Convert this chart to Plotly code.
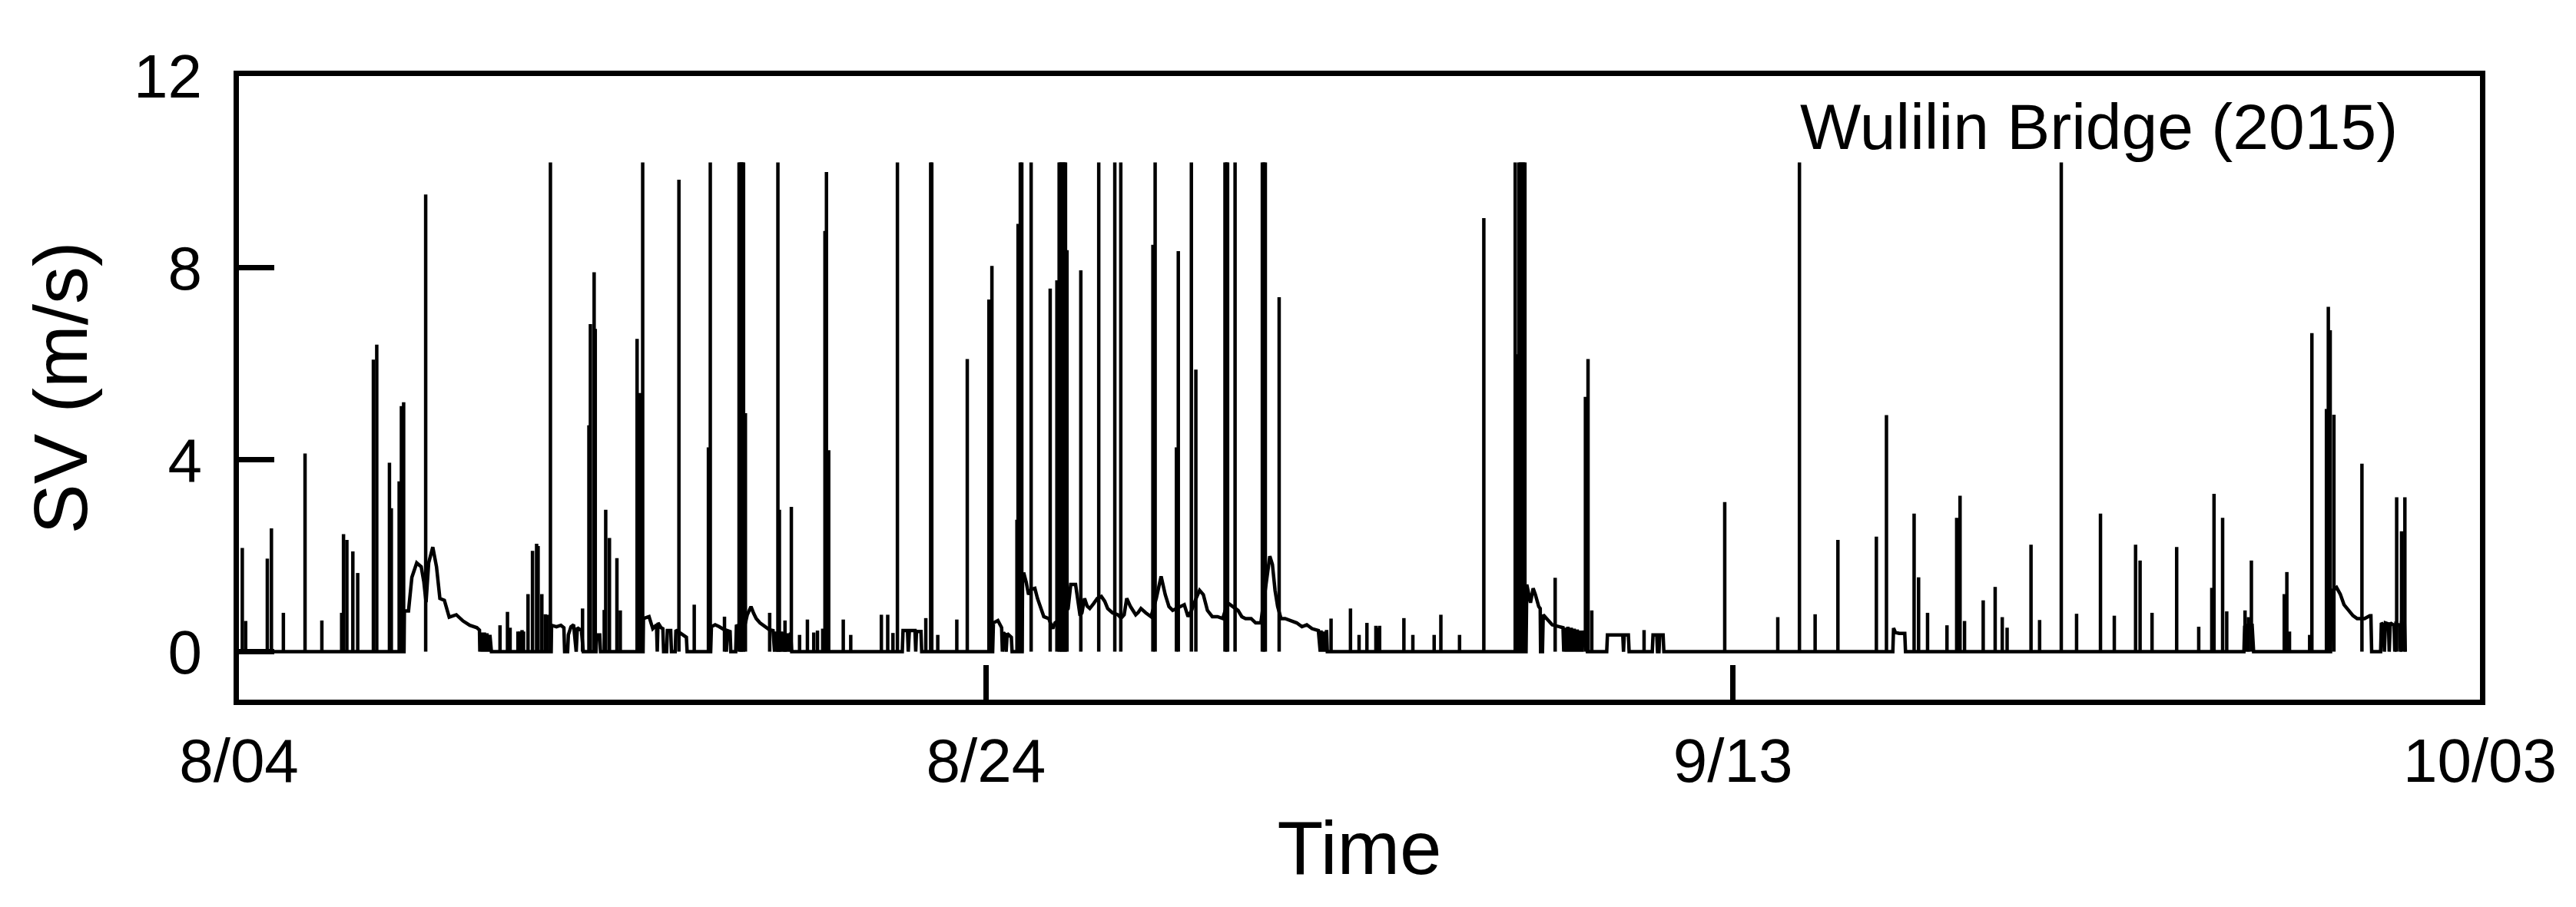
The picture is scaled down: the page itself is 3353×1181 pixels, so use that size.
import plotly.graph_objects as go

# time axis: days since 8/04 (2015)
tick_days = [0, 20, 40, 60]
tick_labels = ["8/04", "8/24", "9/13", "10/03"]
sv_ticks = [0, 4, 8, 12]

# slowly varying background level of SV (m/s)
base_day = [0.0, 4.42, 4.43, 4.54, 4.63, 4.76, 4.88, 4.95, 5.01, 5.08, 5.19, 5.29, 5.38, 5.5, 5.63, 5.82,
            6.0, 6.18, 6.37, 6.44, 6.45, 6.5, 6.53, 6.57, 6.6, 6.64, 6.68, 6.72, 6.76,
            8.36, 8.37, 8.5, 8.62, 8.7, 8.72, 8.8, 8.82, 8.89, 8.96, 9.03, 9.06, 9.1, 9.17, 9.22,
            9.56, 9.58, 9.66, 9.68,
            10.82, 10.83, 10.98, 11.08, 11.18, 11.2, 11.22, 11.3, 11.35, 11.37, 11.45, 11.47, 11.56, 11.58,
            11.68, 11.7, 11.87, 11.98, 12.0,
            12.63, 12.65, 12.75, 12.86, 12.95, 13.03, 13.05, 13.08, 13.15, 13.17, 13.3, 13.32, 13.38,
            13.56, 13.61, 13.71, 13.78, 13.85, 13.95, 14.09, 14.2, 14.3, 14.34, 14.36, 14.4, 14.45, 14.5,
            14.53, 14.57, 14.6, 14.65, 14.7, 14.74, 14.77, 14.8,
            17.76, 17.78, 17.9, 17.92, 17.95, 18.1, 18.12, 18.14, 18.26, 18.28,
            20.18, 20.2, 20.32, 20.42, 20.44, 20.47, 20.52, 20.54, 20.57, 20.62, 20.68, 20.7,
            20.97, 20.98, 21.01, 21.08, 21.14, 21.21, 21.31, 21.38, 21.48, 21.55, 21.68, 21.79, 21.85, 21.95,
            22.2, 22.27, 22.4, 22.47, 22.52, 22.57, 22.64, 22.71, 22.78, 22.88, 22.98, 23.09, 23.18, 23.26,
            23.39, 23.53, 23.62, 23.7, 23.77, 23.87, 24.01, 24.08, 24.15, 24.28, 24.42, 24.56, 24.69, 24.8,
            24.9, 25.0, 25.1, 25.21, 25.31, 25.41, 25.5, 25.62, 25.72, 25.82, 25.93, 26.06, 26.2, 26.34,
            26.47, 26.61, 26.75, 26.85, 26.95, 27.1, 27.22, 27.36, 27.5, 27.6, 27.67, 27.74, 27.81, 27.9,
            28.01, 28.15, 28.32, 28.46, 28.59, 28.73, 28.9, 28.95, 28.97, 29.02, 29.05, 29.1, 29.12, 29.14,
            34.46, 34.48, 34.58, 34.65, 34.71, 34.8, 34.84, 34.85, 34.9, 34.92, 35.02, 35.16, 35.36, 35.45,
            35.47, 35.5, 35.55, 35.58, 35.63, 35.67, 35.72, 35.75, 35.8, 35.83, 35.88, 35.92, 35.96, 36.0, 36.1,
            36.62, 36.64, 37.05, 37.07, 37.09, 37.2, 37.22,
            37.84, 37.86, 37.96, 37.98, 38.02, 38.04, 38.13, 38.15,
            44.28, 44.3, 44.35, 44.45, 44.55, 44.6, 44.62,
            53.68, 53.7, 53.76, 53.78, 53.8, 53.9, 53.94,
            56.0, 56.02, 56.16, 56.26, 56.36, 56.5, 56.6, 56.71, 56.91, 57.05, 57.08, 57.1,
            57.34, 57.36, 57.42, 57.44, 57.47, 57.55, 57.57, 57.6, 57.7, 57.72, 57.75, 57.85, 57.87, 57.9,
            57.98, 58.0]
base_sv = [0, 0, 0.85, 0.85, 1.55, 1.85, 1.77, 1.46, 1.03, 1.85, 2.18, 1.77, 1.11, 1.07, 0.72, 0.77,
           0.64, 0.55, 0.5, 0.45, 0, 0.4, 0, 0.4, 0, 0.38, 0, 0.35, 0,
           0, 0.55, 0.52, 0.55, 0.5, 0, 0, 0.35, 0.52, 0.56, 0, 0.5, 0.48, 0.44, 0,
           0, 0.35, 0.35, 0,
           0, 0.69, 0.73, 0.48, 0.56, 0, 0.6, 0.5, 0.48, 0, 0, 0.44, 0.44, 0,
           0, 0.45, 0.35, 0.3, 0,
           0, 0.52, 0.56, 0.52, 0.48, 0.44, 0, 0.44, 0.42, 0, 0, 0.56, 0.5,
           0.6, 0.77, 0.94, 0.8, 0.69, 0.6, 0.52, 0.46, 0.44, 0, 0.42, 0, 0.45, 0,
           0.42, 0, 0.4, 0, 0.38, 0, 0.4, 0,
           0, 0.44, 0.44, 0, 0.44, 0.44, 0, 0.42, 0.42, 0,
           0, 0.6, 0.65, 0.5, 0, 0.4, 0.35, 0, 0.38, 0.35, 0.3, 0,
           0, 1.5, 1.65, 1.44, 1.19, 1.3, 1.32, 1.11, 0.86, 0.73, 0.69, 0.48, 0.6, 0.65,
           0.9, 1.4, 1.4, 1.02, 0.75, 0.81, 1.11, 0.95, 0.9, 1.0, 1.11, 1.15, 1.05, 0.9,
           0.81, 0.77, 0.7, 0.77, 1.11, 0.94, 0.77, 0.82, 0.9, 0.81, 0.73, 1.11, 1.57, 1.19,
           0.94, 0.86, 0.9, 0.94, 0.98, 0.73, 0.85, 1.1, 1.28, 1.19, 0.86, 0.73, 0.73, 0.69,
           1.02, 0.94, 0.86, 0.73, 0.69, 0.69, 0.6, 0.6, 1.44, 1.99, 1.82, 1.28, 0.94, 0.69,
           0.69, 0.65, 0.6, 0.52, 0.56, 0.48, 0.44, 0, 0.44, 0, 0.42, 0, 0.45, 0,
           0, 1.4, 1.02, 1.32, 1.19, 0.94, 0.9, 0, 0, 0.77, 0.69, 0.56, 0.52, 0.5,
           0, 0.5, 0, 0.52, 0, 0.5, 0, 0.48, 0, 0.46, 0, 0.44, 0, 0.44, 0,
           0, 0.35, 0.35, 0, 0.35, 0.35, 0,
           0, 0.35, 0.35, 0, 0, 0.35, 0.35, 0,
           0, 0.49, 0.4, 0.38, 0.38, 0.38, 0,
           0, 0.52, 0.55, 0, 0.55, 0.55, 0,
           0, 1.26, 1.34, 1.2, 0.98, 0.86, 0.75, 0.69, 0.69, 0.75, 0.75, 0,
           0, 0.6, 0.55, 0, 0.6, 0.58, 0, 0.6, 0.55, 0, 0.58, 0.55, 0, 0.6,
           0.58, 0]

# short bursts (spikes) of SV
spike_day = [0.09, 0.18, 0.76, 0.87, 1.19, 1.77, 2.22, 2.75, 2.8, 2.89, 3.05, 3.18, 3.6, 3.69, 4.03, 4.08,
             4.29, 4.35, 4.41, 5.0, 6.99, 7.19, 7.26, 7.47, 7.52, 7.58, 7.62, 7.74, 7.86, 7.97, 8.01, 8.11,
             8.2, 8.26, 8.34,
             9.2, 9.37, 9.41, 9.51, 9.54, 9.78, 9.82, 9.92, 10.12, 10.21, 10.66, 10.74, 10.81, 11.78, 12.19,
             12.57, 12.62, 13.0, 13.39, 13.42, 13.45, 13.48, 13.51, 13.56, 14.21, 14.43, 14.47, 14.62, 14.79,
             15.01, 15.22, 15.39, 15.49, 15.63, 15.69, 15.73, 15.79, 16.18, 16.38, 17.2, 17.37, 17.51, 17.63,
             18.39, 18.52, 18.55, 18.71, 19.22, 19.5,
             20.08, 20.16, 20.83, 20.86, 20.92, 20.96, 21.21, 21.72, 21.9, 21.96, 21.99, 22.03, 22.06, 22.1,
             22.13, 22.17, 22.54, 23.02, 23.45, 23.61, 24.47, 24.53, 25.1, 25.15, 25.5, 25.62, 26.4, 26.44,
             26.47, 26.67, 27.4, 27.44, 27.48, 27.85, 29.24, 29.76, 29.99,
             30.2, 30.44, 30.5, 30.54, 31.19, 31.43, 32.0, 32.18, 32.68, 33.33, 34.17, 34.23, 34.27, 34.31,
             34.35, 34.39, 34.43, 35.24, 36.05, 36.12, 36.22, 37.62, 39.78, 41.2, 41.78,
             42.2, 42.81, 43.84, 44.11, 44.85, 44.97, 45.21, 45.73, 45.99, 46.08, 46.2, 46.7, 47.02, 47.21,
             47.34, 47.98, 48.21, 48.79, 49.2, 49.84, 50.21, 50.78, 50.9, 51.22, 51.88, 52.47, 52.82, 52.88,
             53.11, 53.22, 53.71, 53.8, 53.88, 54.76, 54.83, 54.9, 55.44, 55.5, 55.89, 55.94, 55.99, 56.09,
             56.84, 57.77, 57.9, 57.99]
spike_sv = [2.16, 0.64, 1.94, 2.57, 0.81, 4.13, 0.65, 0.81, 2.45, 2.33, 2.09, 1.64, 6.09, 6.4, 3.94, 2.99,
            3.55, 5.12, 5.2, 9.53, 0.55, 0.83, 0.5, 0.42, 0.42, 0.45, 0.42, 1.2, 2.1, 2.25, 2.2, 1.2,
            0.78, 0.77, 10.2,
            0.9, 4.72, 6.83, 7.91, 6.73, 0.87, 2.96, 2.37, 1.95, 0.86, 6.52, 5.39, 10.2, 9.84, 0.98,
            4.26, 10.2, 0.73, 10.2, 10.2, 10.2, 10.2, 10.2, 4.97, 0.81, 10.2, 2.96, 0.65, 3.02,
            0.35, 0.67, 0.4, 0.44, 0.48, 8.77, 10.0, 4.2, 0.67, 0.35, 0.77, 0.77, 0.39, 10.2,
            0.7, 10.2, 10.2, 0.35, 0.67, 6.1,
            7.34, 8.04, 2.75, 8.92, 10.2, 10.2, 10.2, 7.57, 7.74, 10.2, 10.2, 10.2, 10.2, 10.2,
            10.2, 8.37, 7.95, 10.2, 10.2, 10.2, 8.48, 10.2, 4.26, 8.35, 10.2, 5.88, 10.2, 10.2,
            10.2, 10.2, 10.2, 10.2, 10.2, 7.39, 0.69, 0.9, 0.35,
            0.6, 0.54, 0.5, 0.54, 0.7, 0.35, 0.35, 0.77, 0.35, 9.04, 10.2, 6.2, 10.2, 10.2,
            10.2, 10.2, 10.2, 1.54, 5.31, 6.1, 0.86, 0.45, 3.12, 0.72, 10.2,
            0.78, 2.33, 2.4, 4.93, 2.88, 1.55, 0.81, 0.55, 2.79, 3.25, 0.64, 1.07, 1.35, 0.72,
            0.5, 2.23, 0.66, 10.2, 0.79, 2.88, 0.75, 2.23, 1.9, 0.81, 2.18, 0.52, 1.33, 3.29,
            2.79, 0.84, 0.86, 0.72, 1.9, 1.2, 1.66, 0.42, 0.35, 6.64, 5.06, 7.19, 6.7, 4.94,
            3.92, 3.22, 2.51, 3.22]

FONT = "Liberation Sans, Arial, sans-serif"

spike_x, spike_y = [], []
for d, v in zip(spike_day, spike_sv):
    spike_x += [d, d, None]
    spike_y += [0, v, None]

fig = go.Figure()
fig.add_trace(go.Scatter(x=base_day, y=base_sv, mode="lines",
                         line=dict(color="black", width=4.5), showlegend=False))
fig.add_trace(go.Scatter(x=spike_x, y=spike_y, mode="lines",
                         line=dict(color="black", width=4.5), showlegend=False))

fig.add_annotation(x=57.83, y=10.95, xref="x", yref="y", text="Wulilin Bridge (2015)",
                   showarrow=False, xanchor="right", yanchor="middle",
                   font=dict(family=FONT, size=84, color="black"))

fig.update_layout(
    width=3353, height=1181,
    margin=dict(l=303, r=133, t=91, b=278),
    paper_bgcolor="white", plot_bgcolor="white",
    font=dict(family=FONT, color="black"),
    showlegend=False,
)
fig.update_xaxes(
    range=[0, 60], tickvals=tick_days, ticktext=tick_labels,
    ticks="inside", ticklen=45, tickwidth=7, tickcolor="black",
    showline=True, linewidth=7, linecolor="black", mirror=True,
    showgrid=False, zeroline=False,
    tickfont=dict(family=FONT, size=80), ticklabelstandoff=4,
    title=dict(text="Time", font=dict(family=FONT, size=98), standoff=38),
)
fig.update_yaxes(
    range=[-1, 12], tickvals=sv_ticks,
    ticks="inside", ticklen=46, tickwidth=7, tickcolor="black",
    showline=True, linewidth=7, linecolor="black", mirror=True,
    showgrid=False, zeroline=False,
    tickfont=dict(family=FONT, size=80), ticklabelstandoff=25,
    title=dict(text="SV (m/s)", font=dict(family=FONT, size=98), standoff=30),
)

fig.write_html("out.html")
